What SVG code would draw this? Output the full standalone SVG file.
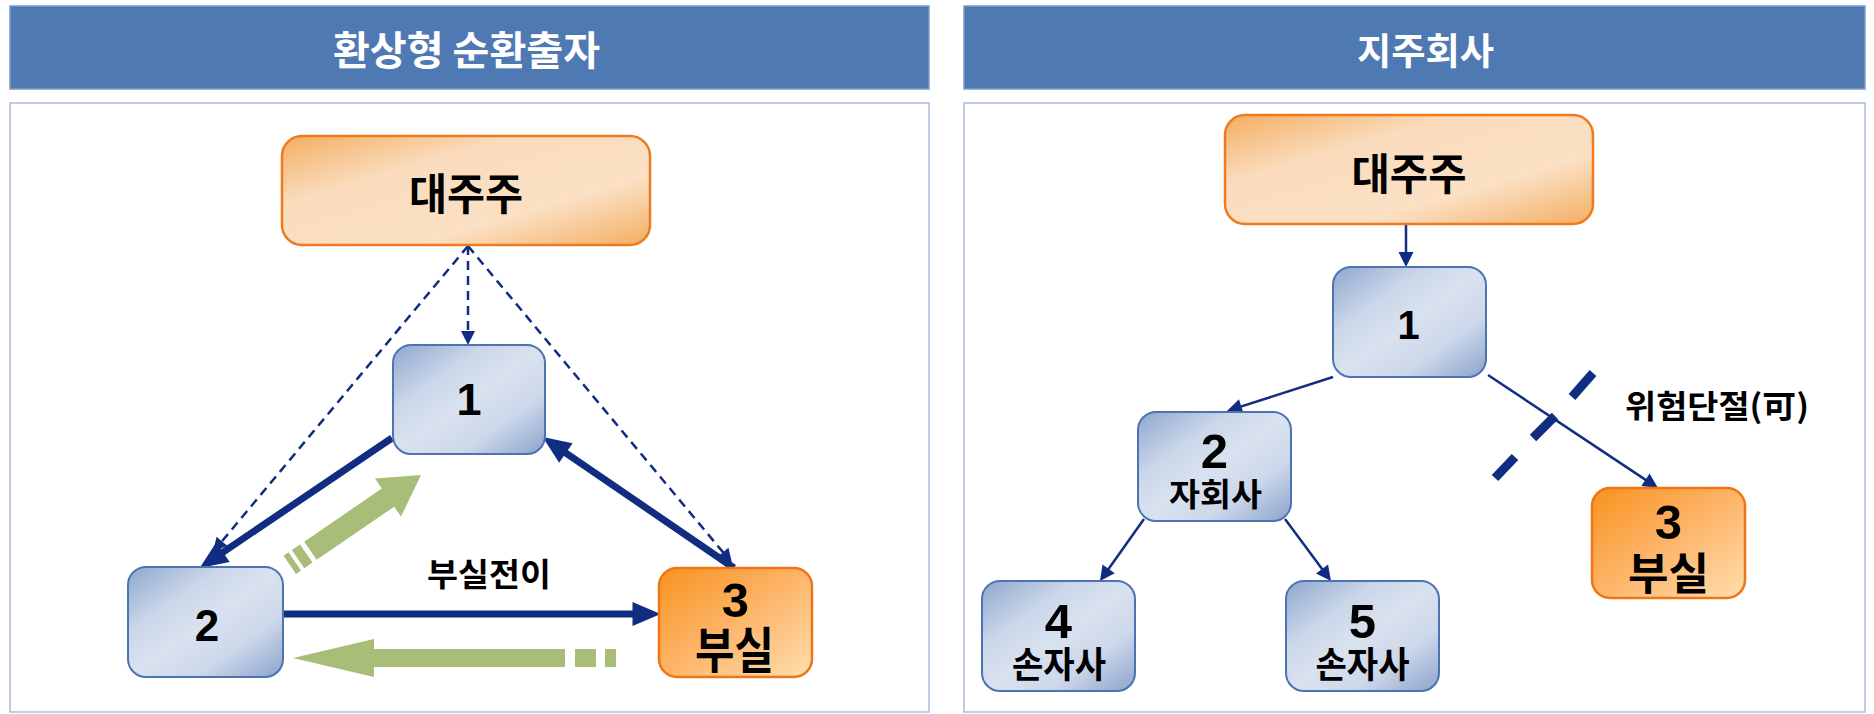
<svg xmlns="http://www.w3.org/2000/svg" width="1874" height="714" viewBox="0 0 1874 714">
  <defs>
    <style>
      .hdr { fill: #4F79B3; stroke: #7E9CC9; stroke-width: 1.5; }
      .panel { fill: #FFFFFF; stroke: #A9BCDB; stroke-width: 1.5; }
      .hdr-t { font-family: "Noto Sans CJK KR", sans-serif; font-weight: 700; fill: #FFFFFF; text-anchor: middle; }
      .box-b { fill: url(#gBlue); stroke: #4D74B0; stroke-width: 2; }
      .box-o { fill: url(#gPeach); stroke: #F07A1E; stroke-width: 2.5; }
      .box-r { fill: url(#gOrange); stroke: #EE7614; stroke-width: 2.5; }
      .ko { font-family: "Noto Sans CJK KR", sans-serif; font-weight: 700; fill: #000000; text-anchor: middle; }
      .num { font-family: "Liberation Sans", Arial, sans-serif; font-weight: 700; fill: #000000; text-anchor: middle; }
      .thick { stroke: #112D82; stroke-width: 7; fill: none; marker-end: url(#headBig); }
      .dash { stroke: #112D82; stroke-width: 2.5; fill: none; stroke-dasharray: 9 6; marker-end: url(#headSmall); }
      .thin { stroke: #112D82; stroke-width: 2.5; fill: none; marker-end: url(#headThin); }
      .cut { stroke: #112D82; stroke-width: 9; fill: none; }
      .flow { fill: #A8BE78; }
    </style>
    <linearGradient id="gBlue" x1="0" y1="0" x2="1" y2="1">
      <stop offset="0" stop-color="#8EA7CE"/>
      <stop offset="0.3" stop-color="#CAD6E9"/>
      <stop offset="0.5" stop-color="#D9E2EF"/>
      <stop offset="0.72" stop-color="#CCD7EA"/>
      <stop offset="1" stop-color="#8AA3CC"/>
    </linearGradient>
    <linearGradient id="gPeach" x1="0" y1="0" x2="1" y2="1">
      <stop offset="0" stop-color="#F3AE62"/>
      <stop offset="0.32" stop-color="#FADCBD"/>
      <stop offset="0.68" stop-color="#FBE0C4"/>
      <stop offset="1" stop-color="#F3AE62"/>
    </linearGradient>
    <linearGradient id="gOrange" x1="0" y1="0" x2="1" y2="1">
      <stop offset="0" stop-color="#F8921E"/>
      <stop offset="0.5" stop-color="#FDB56A"/>
      <stop offset="1" stop-color="#FFDEAD"/>
    </linearGradient>
    <marker id="headBig" markerUnits="userSpaceOnUse" markerWidth="30" markerHeight="26" viewBox="0 -12 26 24" refX="6" refY="0" orient="auto">
      <path d="M0,-11 L26,0 L0,11 Z" fill="#112D82"/>
    </marker>
    <marker id="headSmall" markerUnits="userSpaceOnUse" markerWidth="16" markerHeight="16" viewBox="0 -8 14 16" refX="6" refY="0" orient="auto">
      <path d="M0,-7 L14,0 L0,7 Z" fill="#112D82"/>
    </marker>
    <marker id="headThin" markerUnits="userSpaceOnUse" markerWidth="16" markerHeight="16" viewBox="0 -8 15 16" refX="7" refY="0" orient="auto">
      <path d="M0,-7.5 L15,0 L0,7.5 Z" fill="#112D82"/>
    </marker>
  </defs>

  <rect width="1874" height="714" fill="#FFFFFF"/>

  <!-- left column: circular cross-shareholding -->
  <g id="header-left">
    <rect class="hdr" x="10" y="6" width="919" height="83"/>
    <text class="hdr-t" x="466.5" y="65" font-size="40" textLength="267" lengthAdjust="spacingAndGlyphs">환상형 순환출자</text>
  </g>
  <rect id="panel-left" class="panel" x="10" y="103" width="919" height="609"/>

  <!-- right column: holding company -->
  <g id="header-right">
    <rect class="hdr" x="964" y="6" width="901" height="83"/>
    <text class="hdr-t" x="1425.5" y="65" font-size="37" textLength="137" lengthAdjust="spacingAndGlyphs">지주회사</text>
  </g>
  <rect id="panel-right" class="panel" x="964" y="103" width="901" height="609"/>

  <!-- connectors -->
  <g id="connectors">
    <!-- owner to each company, dashed -->
    <line class="dash" x1="468" y1="246" x2="468" y2="337"/>
    <line class="dash" x1="468" y1="246" x2="218.1" y2="545.9"/>
    <line class="dash" x1="468" y1="246" x2="726.9" y2="556.9"/>
    <!-- ownership cycle 1 -> 2 -> 3 -> 1 -->
    <line class="thick" x1="392" y1="438" x2="217.6" y2="555.8"/>
    <line class="thick" x1="283" y1="614" x2="639" y2="614"/>
    <line class="thick" x1="734" y1="568" x2="560.5" y2="449.3"/>
    <!-- loss transfer flows -->
    <g id="flow-up" transform="translate(421,475) rotate(-34.4)">
      <polygon class="flow" points="0,0 -40,-23 -40,-11 -134,-11 -134,11 -40,11 -40,23"/>
      <rect class="flow" x="-149" y="-11" width="10" height="22"/>
      <rect class="flow" x="-159" y="-11" width="6" height="22"/>
    </g>
    <g id="flow-back">
      <polygon class="flow" points="293,658 374,639 374,649 565,649 565,667 374,667 374,677"/>
      <rect class="flow" x="575" y="649" width="21" height="18"/>
      <rect class="flow" x="605" y="649" width="11" height="18"/>
    </g>

    <!-- holding company tree -->
    <line class="thin" x1="1406" y1="224" x2="1406" y2="259"/>
    <line class="thin" x1="1333" y1="377" x2="1234.6" y2="408.6"/>
    <line class="thin" x1="1144" y1="519" x2="1104.6" y2="574.5"/>
    <line class="thin" x1="1285" y1="519" x2="1326.2" y2="574.6"/>
    <line class="thin" x1="1488" y1="375" x2="1651.3" y2="483.6"/>
    <!-- break mark across the 1 -> 3 link -->
    <g id="cut-mark">
      <line class="cut" x1="1593" y1="373" x2="1572" y2="397"/>
      <line class="cut" x1="1555" y1="416" x2="1533" y2="438"/>
      <line class="cut" x1="1515" y1="457" x2="1495" y2="478"/>
    </g>
  </g>

  <!-- left nodes -->
  <g id="L-owner">
    <rect class="box-o" x="282" y="136" width="368" height="109" rx="20"/>
    <text class="ko" x="466" y="210" font-size="43" textLength="114" lengthAdjust="spacingAndGlyphs">대주주</text>
  </g>
  <g id="L-1">
    <rect class="box-b" x="393" y="345" width="152" height="109" rx="18"/>
    <text class="num" x="469" y="415" font-size="45">1</text>
  </g>
  <g id="L-2">
    <rect class="box-b" x="128" y="567" width="155" height="110" rx="18"/>
    <text class="num" x="207" y="641" font-size="44">2</text>
  </g>
  <g id="L-3">
    <rect class="box-r" x="659" y="568" width="153" height="109" rx="18"/>
    <text class="ko"><tspan class="num" x="735.5" y="617" font-size="49">3</tspan><tspan x="734.5" y="668" font-size="49" textLength="79" lengthAdjust="spacingAndGlyphs">부실</tspan></text>
  </g>
  <g id="L-label">
    <text class="ko" x="489" y="586" font-size="32" textLength="124" lengthAdjust="spacingAndGlyphs">부실전이</text>
  </g>

  <!-- right nodes -->
  <g id="R-owner">
    <rect class="box-o" x="1225" y="115" width="368" height="109" rx="20"/>
    <text class="ko" x="1409" y="189.5" font-size="43" textLength="115" lengthAdjust="spacingAndGlyphs">대주주</text>
  </g>
  <g id="R-1">
    <rect class="box-b" x="1333" y="267" width="153" height="110" rx="18"/>
    <text class="num" x="1408.5" y="339" font-size="40">1</text>
  </g>
  <g id="R-2">
    <rect class="box-b" x="1138" y="412" width="153" height="109" rx="18"/>
    <text class="ko"><tspan class="num" x="1214.5" y="468" font-size="49">2</tspan><tspan x="1215.5" y="506" font-size="32" textLength="93" lengthAdjust="spacingAndGlyphs">자회사</tspan></text>
  </g>
  <g id="R-4">
    <rect class="box-b" x="982" y="581" width="153" height="110" rx="18"/>
    <text class="ko"><tspan class="num" x="1058.5" y="638" font-size="49">4</tspan><tspan x="1059" y="677.5" font-size="36" textLength="94" lengthAdjust="spacingAndGlyphs">손자사</tspan></text>
  </g>
  <g id="R-5">
    <rect class="box-b" x="1286" y="581" width="153" height="110" rx="18"/>
    <text class="ko"><tspan class="num" x="1362.5" y="638" font-size="49">5</tspan><tspan x="1362.5" y="677.5" font-size="36" textLength="94" lengthAdjust="spacingAndGlyphs">손자사</tspan></text>
  </g>
  <g id="R-3">
    <rect class="box-r" x="1592" y="488" width="153" height="110" rx="18"/>
    <text class="ko"><tspan class="num" x="1668.5" y="539" font-size="49">3</tspan><tspan x="1668.5" y="590" font-size="44" textLength="81" lengthAdjust="spacingAndGlyphs">부실</tspan></text>
  </g>
  <g id="R-label">
    <text class="ko" x="1717" y="418" font-size="32" textLength="184" lengthAdjust="spacingAndGlyphs">위험단절(可)</text>
  </g>
</svg>
